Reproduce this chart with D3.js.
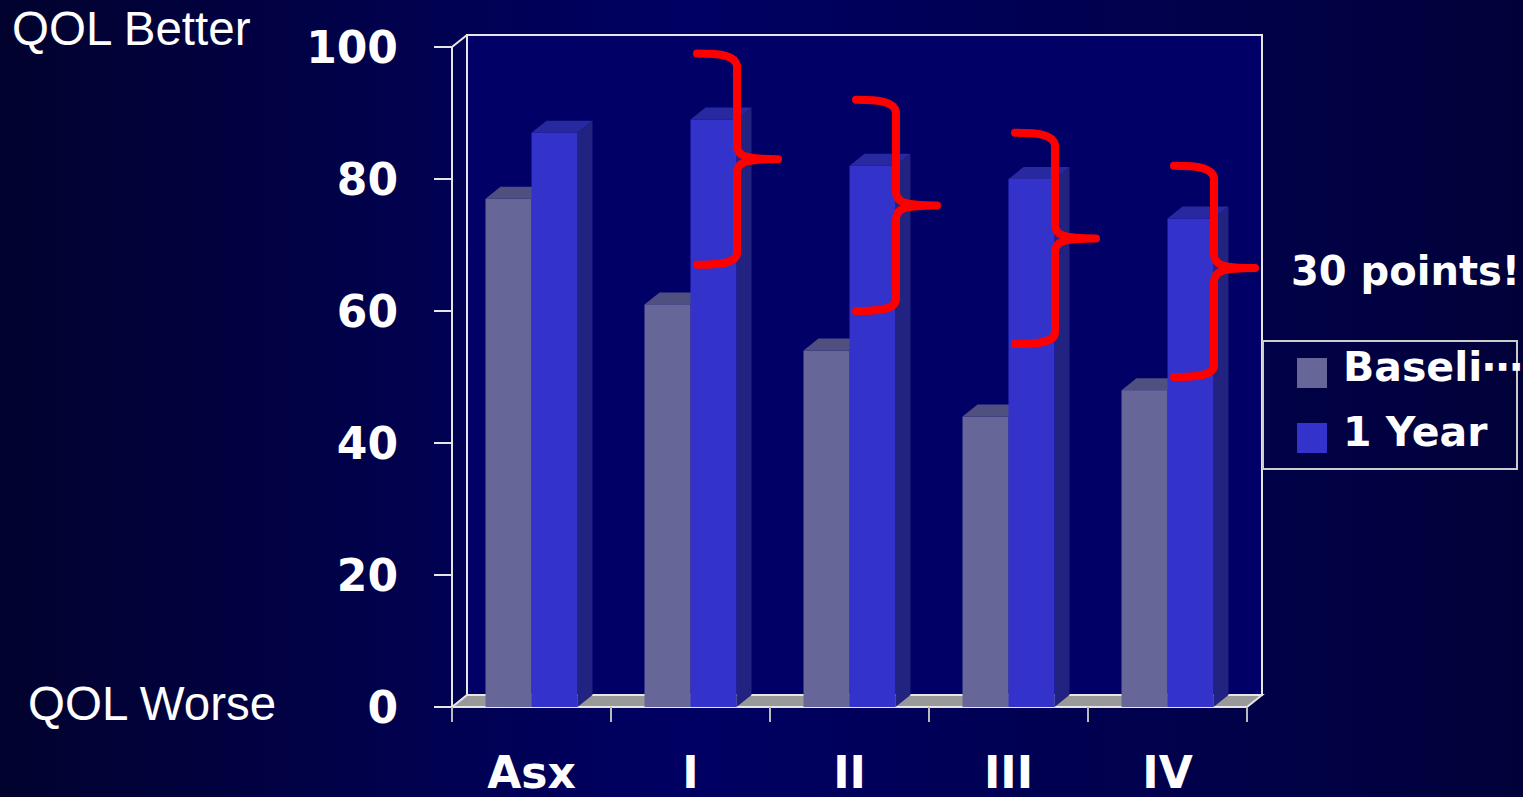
<!DOCTYPE html>
<html>
<head>
<meta charset="utf-8">
<script src="https://cdn.jsdelivr.net/npm/d3@7"></script>
<style>
  html, body { margin: 0; padding: 0; background: #000033; overflow: hidden; }
</style>
</head>
<body>
<script>
// chart data
var categories = ['Asx', 'I', 'II', 'III', 'IV'];
var seriesNames = ['Baseline', '1 Year'];
var baselineValues = [77, 61, 54, 44, 48];
var yearValues = [87, 89, 82, 80, 74];
var yTicks = [0, 20, 40, 60, 80, 100];

// red brace annotations (value units): top end, tip, bottom end
var braceCats = ['I', 'II', 'III', 'IV'];
var braceTop = [99, 92, 87, 82];
var braceTip = [83, 76, 71, 66.5];
var braceBottom = [67, 60, 55, 50];

var width = 1523, height = 797;
var depthX = 15, depthY = 12;

var svg = d3.select('body').append('svg')
  .attr('width', width).attr('height', height);

// background gradient
var defs = svg.append('defs');
var grad = defs.append('linearGradient').attr('id', 'bg')
  .attr('x1', '0%').attr('x2', '100%').attr('y1', '0%').attr('y2', '0%');
grad.append('stop').attr('offset', '0%').attr('stop-color', '#02022e');
grad.append('stop').attr('offset', '45%').attr('stop-color', '#000064');
grad.append('stop').attr('offset', '100%').attr('stop-color', '#01013a');
svg.append('rect').attr('width', width).attr('height', height).attr('fill', 'url(#bg)');

// scales
var x = d3.scaleBand().domain(categories).range([452, 1247]);
var x1 = d3.scaleBand().domain(seriesNames).range([0, 92]);
var y = d3.scaleLinear().domain([0, 100]).range([707, 47]);
var groupOffset = (x.bandwidth() - 92) / 2;

var x0 = x.range()[0], xEnd = x.range()[1];
var y0 = y(0), yTop = y(100);

// back wall
svg.append('rect')
  .attr('x', x0 + depthX).attr('y', yTop - depthY)
  .attr('width', xEnd - x0).attr('height', y0 - yTop)
  .attr('fill', '#000066').attr('stroke', '#e6e6e6').attr('stroke-width', 2);

// floor
svg.append('polygon')
  .attr('points', [[x0, y0], [xEnd, y0], [xEnd + depthX, y0 - depthY], [x0 + depthX, y0 - depthY]].join(' '))
  .attr('fill', '#999999');

// left wall edges
svg.append('path')
  .attr('d', 'M' + x0 + ',' + y0 + 'V' + yTop + 'L' + (x0 + depthX) + ',' + (yTop - depthY))
  .attr('fill', 'none').attr('stroke', '#e6e6e6').attr('stroke-width', 2);
svg.append('path')
  .attr('d', 'M' + x0 + ',' + y0 + 'L' + (x0 + depthX) + ',' + (y0 - depthY) + 'H' + (xEnd + depthX) + 'L' + xEnd + ',' + y0)
  .attr('fill', 'none').attr('stroke', '#e6e6e6').attr('stroke-width', 2);

// y ticks and labels
svg.selectAll('.ytick').data(yTicks).enter().append('line')
  .attr('x1', x0 - 18).attr('x2', x0)
  .attr('y1', function (d) { return y(d); }).attr('y2', function (d) { return y(d); })
  .attr('stroke', '#e6e6e6').attr('stroke-width', 2);
svg.selectAll('.ylab').data(yTicks).enter().append('text')
  .attr('x', 398).attr('y', function (d) { return y(d) + 16; })
  .attr('text-anchor', 'end')
  .attr('font-family', 'DejaVu Sans').attr('font-weight', 'bold').attr('font-size', 44)
  .attr('fill', '#ffffff')
  .text(function (d) { return d; });

// front floor edge
svg.append('line').attr('x1', x0).attr('x2', xEnd).attr('y1', y0).attr('y2', y0)
  .attr('stroke', '#e6e6e6').attr('stroke-width', 2);

// x ticks
var xBounds = categories.map(function (c) { return x(c); }).concat([xEnd]);
svg.selectAll('.xtick').data(xBounds).enter().append('line')
  .attr('x1', function (d) { return d; }).attr('x2', function (d) { return d; })
  .attr('y1', y0).attr('y2', y0 + 15)
  .attr('stroke', '#bbbbbb').attr('stroke-width', 2);

// bars
var faceColors = {
  'Baseline': { front: '#666699', top: '#4f4f80', side: '#4a4a75' },
  '1 Year': { front: '#3333cc', top: '#2828a0', side: '#222280' }
};
var barData = [];
categories.forEach(function (c, i) {
  barData.push({ cat: c, s: 'Baseline', v: baselineValues[i] });
  barData.push({ cat: c, s: '1 Year', v: yearValues[i] });
});

var bars = svg.selectAll('.bar').data(barData).enter().append('g');
bars.each(function (d) {
  var g = d3.select(this);
  var bx = x(d.cat) + groupOffset + x1(d.s);
  var w = x1.bandwidth();
  var yv = y(d.v);
  var col = faceColors[d.s];
  g.append('polygon')
    .attr('points', [[bx + w, yv], [bx + w + depthX, yv - depthY], [bx + w + depthX, y0 - depthY], [bx + w, y0]].join(' '))
    .attr('fill', col.side);
  g.append('polygon')
    .attr('points', [[bx, yv], [bx + depthX, yv - depthY], [bx + w + depthX, yv - depthY], [bx + w, yv]].join(' '))
    .attr('fill', col.top);
  g.append('rect')
    .attr('x', bx).attr('y', yv).attr('width', w).attr('height', y0 - yv)
    .attr('fill', col.front);
});

// x labels
svg.selectAll('.xlab').data(categories).enter().append('text')
  .attr('x', function (d) { return x(d) + x.bandwidth() / 2; })
  .attr('y', 788)
  .attr('text-anchor', 'middle')
  .attr('font-family', 'DejaVu Sans').attr('font-weight', 'bold').attr('font-size', 44)
  .attr('fill', '#ffffff')
  .text(function (d) { return d; });

// braces
braceCats.forEach(function (c, i) {
  var L = x(c) + 86, S = x(c) + 126, T = x(c) + 167;
  var yt = y(braceTop[i]), ym = y(braceTip[i]), yb = y(braceBottom[i]);
  var d = 'M' + L + ',' + yt +
    'C' + (L + 25) + ',' + yt + ' ' + (S - 2) + ',' + (yt + 2) + ' ' + S + ',' + (yt + 12) +
    'L' + S + ',' + (ym - 14) +
    'C' + S + ',' + (ym - 3) + ' ' + (S + 8) + ',' + ym + ' ' + T + ',' + ym +
    'M' + T + ',' + ym +
    'C' + (S + 8) + ',' + ym + ' ' + S + ',' + (ym + 3) + ' ' + S + ',' + (ym + 14) +
    'L' + S + ',' + (yb - 12) +
    'C' + S + ',' + (yb - 2) + ' ' + (L + 25) + ',' + yb + ' ' + L + ',' + yb;
  svg.append('path').attr('d', d)
    .attr('fill', 'none').attr('stroke', '#ff0000').attr('stroke-width', 8)
    .attr('stroke-linecap', 'round').attr('stroke-linejoin', 'round');
});

// annotation text
svg.append('text').attr('x', 1291).attr('y', 285)
  .attr('font-family', 'DejaVu Sans').attr('font-weight', 'bold').attr('font-size', 40)
  .attr('fill', '#ffffff').text('30 points!');

svg.append('text').attr('x', 12).attr('y', 45)
  .attr('font-family', 'Liberation Sans').attr('font-size', 47.5)
  .attr('fill', '#ffffff').text('QOL Better');
svg.append('text').attr('x', 28).attr('y', 720)
  .attr('font-family', 'Liberation Sans').attr('font-size', 47.5)
  .attr('fill', '#ffffff').text('QOL Worse');

// legend
var legend = svg.append('g');
legend.append('rect').attr('x', 1263).attr('y', 341).attr('width', 254).attr('height', 128)
  .attr('fill', 'none').attr('stroke', '#cccccc').attr('stroke-width', 2);
var legendLabels = ['Baseli\u22ef', '1 Year'];
seriesNames.forEach(function (s, i) {
  legend.append('rect').attr('x', 1297).attr('y', 358 + i * 65).attr('width', 30).attr('height', 30)
    .attr('fill', faceColors[s].front);
  legend.append('text').attr('x', 1343).attr('y', 381 + i * 65)
    .attr('font-family', 'DejaVu Sans').attr('font-weight', 'bold').attr('font-size', 41)
    .attr('fill', '#ffffff').text(legendLabels[i]);
});
</script>
</body>
</html>
